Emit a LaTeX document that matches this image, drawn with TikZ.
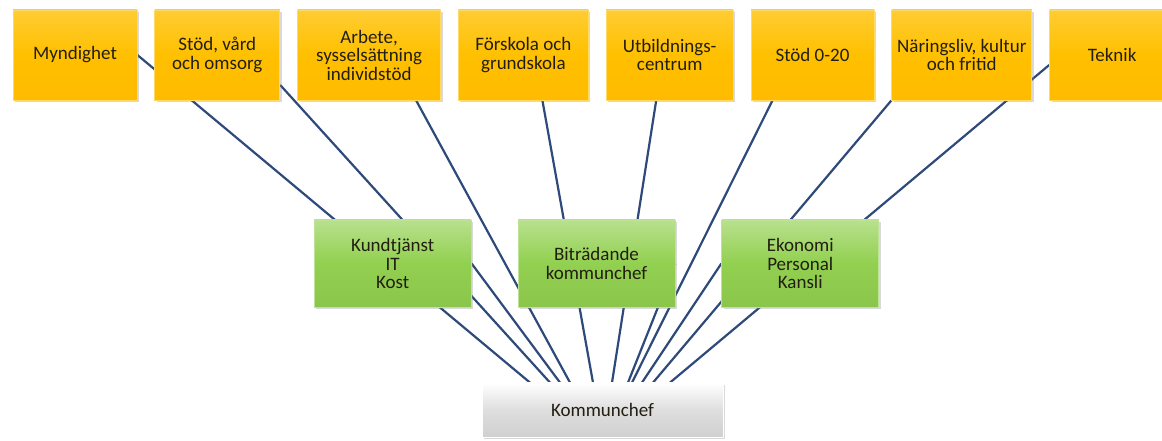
\documentclass[tikz,border=0pt]{standalone}
\usepackage{fontspec}
\setmainfont{Carlito}
\usetikzlibrary{positioning,shadows,backgrounds}
\definecolor{gold}{HTML}{FFC000}
\definecolor{leaf}{HTML}{92D050}
\definecolor{stone}{HTML}{D0D0D0}
\definecolor{navy}{HTML}{2E4A7A}
\definecolor{ink}{HTML}{221E12}

\begin{document}
\begin{tikzpicture}[x=1pt,y=1pt,
    box/.style={rectangle,align=center,inner sep=2pt,text=ink,font=\fontsize{19}{18.5}\selectfont,
        drop shadow={shadow xshift=2pt,shadow yshift=-2pt,opacity=0.3}},
    top node/.style={box,minimum width=125pt,minimum height=90pt,draw=gold!60!white,line width=0.8pt,
        top color=gold!80!white,bottom color=gold!92!orange,middle color=gold},
    mid node/.style={box,minimum width=157pt,minimum height=87pt,draw=leaf!60!white,line width=0.8pt,
        top color=leaf!65!white,bottom color=leaf!95!black,middle color=leaf},
    chef node/.style={box,minimum width=241pt,minimum height=54pt,draw=white,line width=0.8pt,
        top color=white,bottom color=stone,middle color=stone!70!white},
    conn/.style={draw=navy,line width=2.2pt}]

    \useasboundingbox (0,0) rectangle (1162,441);

    \node[top node, minimum width=124pt] (myn) at (75,386) {Myndighet};
    \node[top node] (stod) [right=17pt of myn] {Stöd, vård\\och omsorg};
    \node[top node, minimum width=143pt] (arb) [right=17pt of stod] {Arbete,\\sysselsättning\\individstöd};
    \node[top node, minimum width=130pt] (forsk) [right=17pt of arb] {Förskola och\\grundskola};
    \node[top node, minimum width=127pt] (utb) [right=17pt of forsk] {Utbildnings-\\centrum};
    \node[top node, minimum width=123pt] (st20) [right=17pt of utb] {Stöd 0-20};
    \node[top node, minimum width=140pt] (nar) [right=17pt of st20] {Näringsliv, kultur\\och fritid};
    \node[top node] (tek) [right=17pt of nar] {Teknik};

    \node[mid node] (bitr) at (596.5,177.5) {Biträdande\\kommunchef};
    \node[mid node] (kund) [left=46pt of bitr] {Kundtjänst\\IT\\Kost};
    \node[mid node] (eko) [right=46pt of bitr] {Ekonomi\\Personal\\Kansli};

    \node[chef node] (kc) at (602.5,31) {Kommunchef};

    \begin{pgfonlayer}{background}
    \path[conn]
        (myn.east) edge ([xshift=-72.5pt]kc.north)
        ([yshift=-30pt]stod.east) edge ([xshift=-52.5pt]kc.north)
        (kund.east) edge ([xshift=-42.5pt]kc.north)
        ([xshift=47pt]arb.south) edge ([xshift=-32.5pt]kc.north)
        ([xshift=19pt]forsk.south) edge ([xshift=-9.5pt]kc.north)
        ([xshift=-13.5pt]utb.south) edge ([xshift=9.5pt]kc.north)
        (bitr.east) edge ([xshift=25.5pt]kc.north)
        ([xshift=-40pt]st20.south) edge ([xshift=29.5pt]kc.north)
        (eko.west) edge ([xshift=39.5pt]kc.north)
        (nar.south west) edge ([xshift=50.5pt]kc.north)
        ([yshift=-10pt]tek.west) edge ([xshift=67.5pt]kc.north)
    ;
    \end{pgfonlayer}
\end{tikzpicture}
\end{document}
